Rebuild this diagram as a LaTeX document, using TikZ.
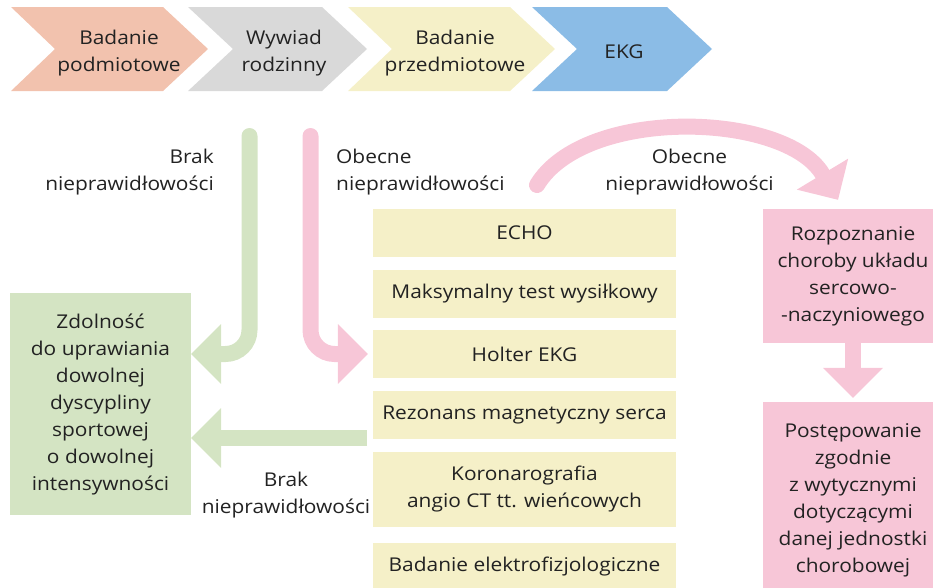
\documentclass[tikz,border=0pt]{standalone}
\usepackage{fontspec}
\setmainfont[FakeStretch=1.1]{Open Sans}
\usetikzlibrary{arrows.meta}

\definecolor{salmon}{HTML}{F2C2AE}
\definecolor{greychev}{HTML}{D9D9D9}
\definecolor{cream}{HTML}{F5F0C8}
\definecolor{skyblue}{HTML}{8BBCE6}
\definecolor{sage}{HTML}{D4E4C3}
\definecolor{rose}{HTML}{F7C6D7}
\definecolor{ink}{HTML}{222222}

\tikzset{
  txt/.style={text=ink, font=\fontsize{19}{27}\selectfont, align=center, inner sep=0pt},
  lbl/.style={txt, yshift=-2pt},
  exam/.style={txt, fill=cream, minimum width=303pt, minimum height=48pt},
  greenbox/.style={txt, fill=sage, minimum width=181pt},
  pinkbox/.style={txt, fill=rose, minimum width=180pt},
  fatarrow/.style={line width=16pt, -{Triangle[width=60pt,length=30pt,line width=0pt]}}
}

\begin{document}
\begin{tikzpicture}[x=1pt, y=-1pt]
  \useasboundingbox (0,0) rectangle (933,587);
  \clip (0,0) rectangle (933,587);

  % process chevrons
  \fill[salmon]   (11,7)  -- (163,7) -- (208,49) -- (163,91) -- (11,91)  -- (55,49)  -- cycle;
  \fill[greychev] (188,7) -- (322,7) -- (367,49) -- (322,91) -- (188,91) -- (233,49) -- cycle;
  \fill[cream]    (348,7) -- (510,7) -- (555,49) -- (510,91) -- (348,91) -- (392,49) -- cycle;
  \fill[skyblue]  (532,7) -- (667,7) -- (712,49) -- (667,91) -- (532,91) -- (577,49) -- cycle;

  \node[lbl] (podm)  at (119,51) {Badanie\\podmiotowe};
  \node[lbl] (wyw)   at (284,51) {Wywiad\\rodzinny};
  \node[lbl] (przed) at (455,51) {Badanie\\przedmiotowe};
  \node[lbl] (ekg)   at (624,50) {EKG};

  % diagnostic tests
  \node[exam] (echo)   at (524.5,233) {ECHO};
  \node[exam] (maks)   at (524.5,294) {Maksymalny test wysiłkowy};
  \node[exam] (holter) at (524.5,354) {Holter EKG};
  \node[exam] (rez)    at (524.5,415) {Rezonans magnetyczny serca};
  \node[exam, minimum height=75pt] (koro) at (524.5,489.5) {Koronarografia\\angio CT tt. wieńcowych};
  \node[exam] (elek)   at (524.5,567) {Badanie elektrofizjologiczne};

  % outcomes
  \node[greenbox, minimum height=222pt] (zd) at (100.5,404)
    {Zdolność\\do uprawiania\\dowolnej\\dyscypliny\\sportowej\\o dowolnej\\intensywności};
  \node[pinkbox, minimum height=134pt] (rozp) at (853,276)
    {Rozpoznanie\\choroby układu\\sercowo-\\-naczyniowego};
  \node[pinkbox, minimum height=196pt] (post) at (853,500)
    {Postępowanie\\zgodnie\\z wytycznymi\\dotyczącymi\\danej jednostki\\chorobowej};

  % labels
  \node[lbl, anchor=east, align=right] (brak1) at (214,170) {Brak\\nieprawidłowości};
  \node[lbl, anchor=west, align=left] (obec1) at (336,170) {Obecne\\nieprawidłowości};
  \node[lbl] (obec2) at (689.5,170) {Obecne\\nieprawidłowości};
  \node[lbl] (brak2) at (286,493.5) {Brak\\nieprawidłowości};

  % arrow start points
  \coordinate (gtop) at (249.5,136);
  \coordinate (ptop) at (310.5,136);
  \coordinate (gmid) at (367,438);
  \coordinate (cstart) at (537,185);

  % arrows
  \draw[fatarrow, sage, line cap=round, rounded corners=24pt] (gtop) |- (zd.east |- holter.west);
  \draw[fatarrow, rose, line cap=round, rounded corners=24pt] (ptop) |- ([xshift=-5pt]holter.west);
  \draw[fatarrow, sage] (gmid) -- (gmid -| zd.east);
  \draw[fatarrow, rose, line cap=round] (cstart) .. controls (585,106) and (785,112) .. ([xshift=-15pt,yshift=9pt]rozp.north);
  \draw[fatarrow, rose] (rozp.south) -- ([yshift=4pt]post.north);
\end{tikzpicture}
\end{document}
